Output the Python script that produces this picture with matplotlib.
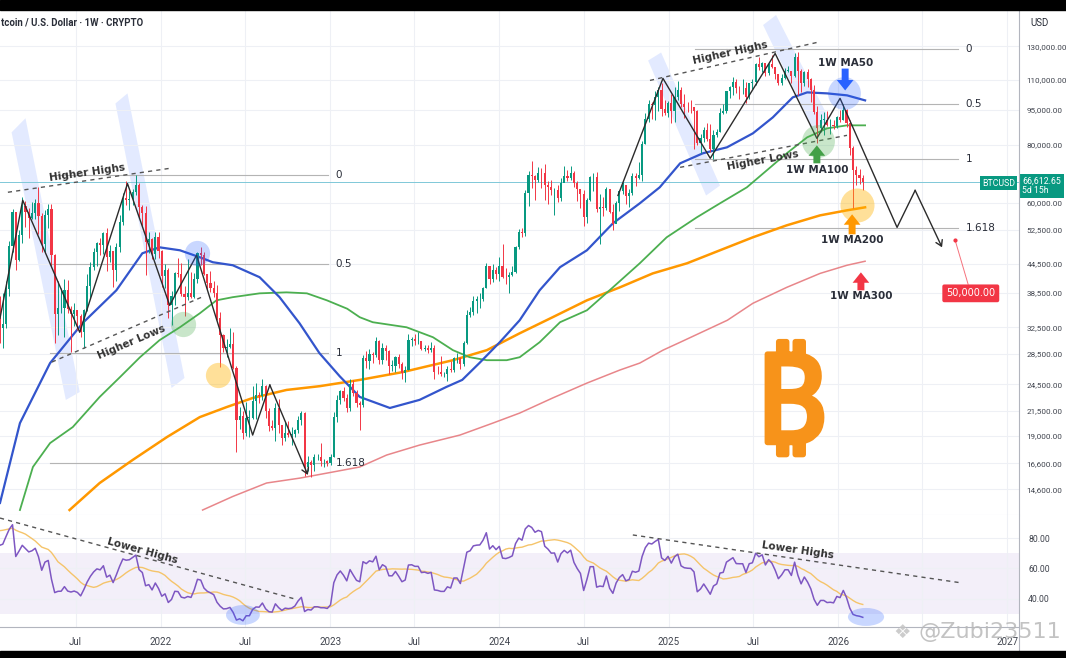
import numpy as np
import pandas as pd
import matplotlib
matplotlib.use("Agg")
import matplotlib.pyplot as plt
import matplotlib.dates as mdates
import matplotlib.patheffects as pe
from matplotlib.patches import Polygon, Ellipse, Rectangle
from matplotlib.lines import Line2D
from matplotlib.ticker import FixedLocator, NullLocator, FuncFormatter

plt.rcParams['font.family'] = ['DejaVu Sans']

# ---------------- weekly BTCUSD candles (week start 2021-01-18 ... 2026-02-23)
first_open = 35800
closes = [
    # 2021
    32300, 33100, 39300, 48600, 57500, 45200, 51200, 59000, 57400, 55800, 57100, 60000, 56200,
    49100, 56600, 58300, 46400, 34700, 35700, 35800, 39100, 35500, 34700, 35300, 34300, 31800,
    35400, 39900, 43800, 47000, 49300, 48800, 51800, 46000, 47300, 43200, 48200, 54700, 61500,
    60900, 61300, 63300, 65500, 58700, 57200, 49400, 50100, 46700, 50800, 47300,
    # 2022
    41800, 43100, 36300, 37900, 42400, 42200, 38300, 37700, 38400, 37800, 41300, 46800, 46400,
    42200, 40400, 39500, 38500, 34000, 31300, 29400, 29500, 29900, 26600, 20600, 21000, 19300,
    20800, 20800, 22600, 23300, 23200, 24300, 21500, 20000, 19800, 21800, 20100, 18800, 19300,
    19100, 19200, 19600, 20600, 21300, 16300, 16700, 16500, 17100, 17100, 16800, 16800, 16600,
    # 2023
    17100, 20900, 22700, 23700, 22900, 21800, 24600, 23500, 22400, 22100, 27900, 27500, 28500,
    28300, 30300, 27600, 29300, 28900, 26900, 26900, 28100, 27100, 25900, 26300, 30500, 30600,
    30300, 30300, 29200, 29300, 29100, 29300, 26100, 26000, 25800, 25800, 26500, 26300, 27900,
    27900, 27100, 30000, 34500, 35000, 37000, 37300, 37400, 39500, 44000, 41300, 43000, 42300,
    # 2024
    43900, 41700, 41600, 42000, 42600, 48300, 52100, 51700, 63100, 68900, 68400, 67200, 69700,
    69400, 65700, 64900, 63800, 63900, 61500, 66300, 68500, 67800, 69600, 66200, 64300, 62700,
    55900, 60800, 68200, 68200, 58100, 58700, 58400, 64200, 57300, 54000, 60000, 63600, 65600,
    62100, 62900, 68400, 67900, 68700, 80400, 90900, 97700, 97300, 101200, 104600, 95200, 93700,
    98300,
    # 2025
    94500, 101300, 104600, 97700, 96500, 96200, 96100, 94200, 80700, 82600, 86100, 82400, 78200,
    83700, 85200, 93700, 94300, 104100, 106500, 109000, 105700, 105600, 105600, 101000, 108300,
    109200, 119100, 117300, 119400, 114100, 119300, 117400, 113500, 108200, 111100, 115300,
    115300, 112100, 123500, 115200, 108600, 114500, 110500, 104700, 94000, 86800, 90400, 90400,
    88100, 88300, 87700, 91500,
    # 2026
    90500, 94800, 89000, 78500, 70500, 68800, 68000, 66612.65,
]
highs = [
    37900, 38500, 40900, 49700, 58300, 57500, 52600, 61800, 60600, 58400, 60200, 61300, 64900,
    57200, 58000, 59600, 59600, 46600, 40900, 39500, 41300, 41000, 36000, 36600, 35100, 34700,
    35500, 42200, 44800, 48100, 49500, 50500, 51900, 52900, 48800, 47400, 49200, 56600, 62900,
    67000, 63700, 64300, 69000, 66300, 59400, 59200, 51900, 50500, 51900, 52100,
    47500, 44400, 43500, 38900, 42700, 45800, 44700, 39800, 45400, 42600, 42400, 47000, 48200,
    47200, 41500, 42900, 40800, 40000, 35000, 31400, 30600, 32400, 31700, 26900, 21900, 21500,
    22500, 21600, 24300, 24700, 23600, 25200, 24400, 21800, 20600, 22400, 22800, 19600, 20400,
    20500, 19900, 19700, 21000, 21500, 21400, 17200, 16900, 17400, 17400, 18400, 17000, 16900,
    17400, 21400, 23300, 23900, 24200, 23400, 25200, 25100, 23900, 22600, 28400, 28900, 29200,
    28800, 31000, 30500, 30000, 29800, 29000, 27600, 28200, 28500, 27400, 26800, 31400, 31000,
    31500, 31800, 30400, 29700, 29700, 30200, 29700, 26800, 28200, 26100, 26900, 27500, 28100,
    28600, 28000, 30300, 35300, 35900, 38000, 37900, 38400, 39600, 44700, 43400, 44300, 43800,
    45900, 48900, 43600, 42600, 43900, 48600, 52800, 52900, 64000, 70100, 73800, 68700, 71700,
    71300, 72800, 66800, 67200, 64700, 65500, 67700, 71900, 70600, 71900, 70200, 66900, 63400,
    63800, 61400, 68500, 69400, 70000, 62700, 61800, 65000, 64400, 59800, 60600, 64100, 66500,
    64400, 64400, 69400, 69500, 73600, 81500, 93500, 99600, 98700, 104000, 106500, 108300, 99900,
    99000,
    102700, 106400, 109600, 106400, 102500, 98800, 99500, 96500, 95000, 84200, 87400, 88800, 88500,
    86100, 86400, 95800, 97900, 104400, 106700, 111900, 110700, 106800, 110400, 108900, 108500,
    110600, 119500, 123200, 120200, 119800, 119500, 124500, 117500, 113500, 113400, 116800,
    117900, 113300, 125700, 126200, 115900, 115300, 116400, 111200, 107500, 96600, 93100, 94100,
    94600, 90600, 90400, 92000,
    94800, 97900, 95500, 90500, 79500, 72000, 70800, 69000,
]
lows = [
    30000, 29300, 32300, 38000, 47100, 43000, 45000, 49300, 53300, 50400, 55300, 55500, 51500,
    47000, 47000, 52900, 43800, 30000, 31200, 34800, 31000, 34800, 28800, 32700, 32100, 31000,
    29300, 35200, 37500, 43200, 43900, 46300, 46700, 42800, 44800, 39600, 40800, 47100, 53900,
    59500, 57800, 59400, 62300, 55600, 53300, 42000, 46900, 45500, 45600, 45700,
    39700, 39400, 34000, 32900, 36300, 41600, 38000, 34300, 37200, 37600, 37600, 40500, 44200,
    42000, 39200, 38600, 37700, 33700, 26700, 28700, 28000, 29300, 26500, 17600, 19700, 18700,
    19000, 18900, 20700, 20700, 22400, 22700, 20800, 19500, 19600, 18500, 19300, 18200, 18500,
    18900, 18200, 18900, 19300, 20100, 15600, 16000, 15500, 16000, 16900, 16400, 16300, 16400,
    16500, 17100, 20400, 22300, 22600, 21400, 21500, 23100, 21900, 19600, 21900, 26600, 26500,
    27200, 28100, 27100, 27100, 27700, 25800, 26200, 26000, 26600, 25200, 24800, 26300, 29600,
    29700, 29900, 29100, 28900, 28600, 28700, 25200, 25800, 25600, 25400, 24900, 26000, 26000,
    27200, 26500, 26900, 29900, 34100, 34600, 34900, 35700, 36900, 39400, 40300, 40600, 41300,
    40800, 41500, 40300, 38500, 41900, 42500, 47700, 50600, 50900, 59000, 64500, 60800, 66600,
    64600, 60800, 59600, 62400, 56600, 60200, 60700, 66600, 66700, 67300, 64900, 60700, 58500,
    53500, 54300, 60600, 63500, 57300, 49100, 56200, 57900, 57200, 52600, 54600, 57600, 62700,
    59800, 58900, 62400, 65100, 67500, 66800, 80200, 89400, 90800, 90500, 94300, 92200, 92500,
    91800,
    89200, 89300, 99500, 96200, 91200, 94100, 93400, 78200, 80000, 76600, 81100, 81600, 77100,
    74500, 83100, 85100, 92900, 93400, 100700, 102000, 103100, 100400, 102800, 98200, 100300,
    105200, 107500, 115700, 114700, 112000, 112700, 116800, 110700, 107300, 107300, 110600,
    114500, 108600, 111600, 102000, 103500, 106800, 106300, 98900, 93000, 80600, 85300, 83800,
    87600, 84400, 86600, 86700,
    89300, 90300, 87300, 76000, 58500, 65500, 66000, 64000,
]
# weekly closes before the first drawn candle (2020-06-01 ...), only used to warm up the RSI
warmup_closes = [9750, 9450, 9300, 9000, 9100, 9250, 9200, 9950, 11100, 11680, 11900, 11650,
                 11700, 10250, 10450, 10950, 10750, 10650, 11380, 11500, 13030, 13800, 15480,
                 16000, 18400, 18200, 19150, 19250, 23850, 26500, 33000, 38200, 35800]

# ---------------- moving averages (date, price)
ma50_dates = ['2021-01-19', '2021-03-03', '2021-05-07', '2021-07-16', '2021-09-27', '2021-11-22',
              '2021-12-29', '2022-02-11', '2022-03-26', '2022-04-23', '2022-06-05', '2022-08-02',
              '2022-09-14', '2022-10-27', '2022-12-09', '2023-01-22', '2023-03-06', '2023-05-10',
              '2023-07-13', '2023-09-09', '2023-10-13', '2023-11-19', '2024-01-02', '2024-02-14',
              '2024-03-28', '2024-05-11', '2024-07-08', '2024-09-02', '2024-10-30', '2024-12-12',
              '2025-01-25', '2025-03-15', '2025-05-06', '2025-07-01', '2025-08-13', '2025-09-25',
              '2025-10-26', '2025-12-08', '2026-01-20', '2026-02-28']
ma50_vals = [13660, 20250, 27230, 33150, 38990, 46800, 48200, 47500, 45890, 44780, 44120, 41590,
             37690, 33150, 28600, 25500, 23040, 21820, 22710, 24210, 25060, 27230, 30180, 33640,
             38990, 43700, 47500, 54250, 59880, 64800, 72940, 76640, 78930, 84570, 91500, 101000,
             103500, 103000, 102000, 99500]
ma100_dates = ['2021-03-03', '2021-03-31', '2021-05-07', '2021-06-25', '2021-08-22', '2021-10-05',
               '2021-11-17', '2021-12-29', '2022-02-11', '2022-03-26', '2022-05-01', '2022-06-05',
               '2022-08-02', '2022-09-29', '2022-11-12', '2022-12-25', '2023-02-07', '2023-03-06',
               '2023-04-03', '2023-06-15', '2023-08-11', '2023-09-23', '2023-10-29', '2023-12-05',
               '2024-01-17', '2024-02-14', '2024-03-28', '2024-05-11', '2024-07-08', '2024-09-02',
               '2024-10-30', '2024-12-27', '2025-03-02', '2025-04-21', '2025-06-18', '2025-07-31',
               '2025-09-12', '2025-10-26', '2025-12-08', '2026-01-20', '2026-02-28']
ma100_vals = [13190, 16310, 18350, 19860, 23040, 25420, 28030, 30480, 32490, 34810, 37110, 37690,
              38410, 38600, 38410, 37110, 35600, 34140, 33310, 32490, 30930, 29020, 28030, 27620,
              27620, 28030, 30180, 33310, 35330, 39560, 44550, 50640, 55880, 59880, 64800, 70460,
              76640, 82920, 86680, 87970, 87970]
ma200_dates = ['2021-06-18', '2021-08-22', '2021-11-01', '2022-01-14', '2022-03-26', '2022-05-23',
               '2022-07-18', '2022-09-29', '2022-12-10', '2023-03-06', '2023-06-07', '2023-09-23',
               '2023-12-05', '2024-02-14', '2024-04-25', '2024-07-08', '2024-09-17', '2024-11-27',
               '2025-02-09', '2025-04-21', '2025-07-01', '2025-09-12', '2025-11-23', '2026-01-20',
               '2026-02-28']
ma200_vals = [13190, 15070, 16880, 18900, 20860, 21920, 22920, 23850, 24300, 25060, 26050, 27620,
              29020, 31540, 34140, 37110, 39560, 42380, 44550, 47500, 50640, 53720, 56430, 57850,
              58710]
ma300_dates = ['2022-04-01', '2022-06-05', '2022-08-17', '2022-10-28', '2023-01-07', '2023-03-06',
               '2023-05-03', '2023-07-13', '2023-10-08', '2023-12-18', '2024-02-14', '2024-04-25',
               '2024-07-08', '2024-09-17', '2024-10-30', '2024-12-19', '2025-01-25', '2025-05-07',
               '2025-07-01', '2025-09-12', '2025-11-23', '2026-01-20', '2026-02-28']
ma300_vals = [13190, 14100, 15070, 15440, 15910, 16310, 17300, 18170, 19090, 20250, 21280, 22920,
              24670, 26310, 27230, 29020, 30170, 33640, 36570, 39560, 42380, 44120, 45000]

# ---------------- drawings
fib_left = (69000, 28600)
fib_right = (128500, 74400)
fib_levels = [0, 0.5, 1, 1.618]
fib_labels = ['0', '0.5', '1', '1.618']

zig_left_dates = ['2021-01-19', '2021-03-09', '2021-07-10', '2021-10-21', '2022-01-20',
                  '2022-03-19', '2022-07-18', '2022-08-24', '2022-11-14']
zig_left_vals = [33970, 60800, 31700, 66000, 36200, 46360, 19090, 24440, 15680]
zig_right_dates = ['2024-09-13', '2024-12-19', '2025-03-31', '2025-08-18', '2025-11-16',
                   '2026-01-05', '2026-05-08', '2026-06-16', '2026-08-13']
zig_right_vals = [62250, 110900, 74770, 125400, 82500, 100500, 53180, 63840, 48200]

bands = [
    (['2021-02-13', '2021-03-15', '2021-07-10', '2021-06-10'], [84990, 91100, 23610, 22700]),
    (['2021-09-25', '2021-10-21', '2022-02-21', '2022-01-24'], [97990, 103000, 25300, 24080]),
    (['2024-11-17', '2024-12-15', '2025-04-21', '2025-03-22'], [121100, 126000, 65360, 62230]),
    (['2025-07-23', '2025-08-20', '2025-12-12', '2025-11-10'], [144300, 151600, 91000, 85500]),
]
trend_lines = [  # dashed "Higher Highs / Higher Lows"
    (['2021-02-05', '2022-01-20'], [63240, 71160]),
    (['2021-05-11', '2022-03-30'], [27370, 37690]),
    (['2024-11-21', '2025-11-16'], [109800, 132400]),
    (['2025-01-25', '2026-01-20'], [71510, 83740]),
]
trend_texts = [
    ('Higher Highs', '2021-07-27', 69770, 8),
    ('Higher Lows', '2021-10-30', 30180, 23),
    ('Higher Highs', '2025-05-13', 126000, 12.5),
    ('Higher Lows', '2025-07-23', 74040, 10.5),
]
rsi_lines = [(['2021-01-19', '2022-10-17'], [93.1, 40.0]),
             (['2024-10-15', '2026-09-25'], [82.0, 50.5])]
rsi_texts = [('Lower Highs', '2021-11-23', 71.5, -15.5), ('Lower Highs', '2025-10-06', 72.1, -8.3)]

circles = [('2022-03-21', 46800, '#2962ff', 0.25, 330), ('2022-02-17', 32990, '#4caf50', 0.3, 330),
           ('2022-05-04', 25670, '#ffb300', 0.4, 330), ('2026-01-14', 103000, '#2962ff', 0.25, 560),
           ('2025-11-18', 81280, '#4caf50', 0.3, 560), ('2026-02-11', 59290, '#ffb300', 0.4, 600)]
ma_arrows = [('1W MA50', '2026-01-16', 116400, 104500, 119900, '#2962ff'),
             ('1W MA100', '2025-11-16', 72940, 79700, 70460, '#43a047'),
             ('1W MA200', '2026-01-31', 51400, 56720, 49900, '#ff9800'),
             ('1W MA300', '2026-02-19', 38990, 42600, 37870, '#f23645')]
target_price = 50000
target_date = '2026-09-10'
target_box = ('2026-10-14', 38410)

price_ticks = [14600, 16600, 19000, 21500, 24500, 28500, 32500, 38500, 44500, 52500, 60000,
               80000, 95000, 110000, 130000]
rsi_ticks = [40, 60, 80]
time_ticks = ['2021-07-01', '2022-01-01', '2022-07-01', '2023-01-01', '2023-07-01', '2024-01-01',
              '2024-07-01', '2025-01-01', '2025-07-01', '2026-01-01', '2026-07-01', '2027-01-01']
time_labels = ['Jul', '2022', 'Jul', '2023', 'Jul', '2024', 'Jul', '2025', 'Jul', '2026', '', '2027']

# ---------------- derived
weeks = pd.date_range('2021-01-18', periods=len(closes), freq='7D')
opens = [first_open] + closes[:-1]
last = closes[-1]

allc = np.array(warmup_closes + closes, dtype=float)
d = np.diff(allc)
gain = np.clip(d, 0, None)
loss = np.clip(-d, 0, None)
ag = np.full(len(d), np.nan)
al = np.full(len(d), np.nan)
ag[13] = gain[:14].mean()
al[13] = loss[:14].mean()
for i in range(14, len(d)):
    ag[i] = (ag[i - 1] * 13 + gain[i]) / 14
    al[i] = (al[i - 1] * 13 + loss[i]) / 14
rsi_full = 100 - 100 / (1 + ag / al)
rsi_ma_full = pd.Series(rsi_full).rolling(14).mean().values
k0 = len(warmup_closes) - 1
rsi = rsi_full[k0:]
rsi_ma = rsi_ma_full[k0:]

def dt(s):
    return pd.Timestamp(s)

W, H = 1066, 658
def fx(px):
    return px / W
def fy(py):
    return 1 - py / H

fig = plt.figure(figsize=(W / 100, H / 100), dpi=100)
ax = fig.add_axes([0, fy(515), fx(1019), fy(10) - fy(515)])
axr = fig.add_axes([0, fy(627), fx(1019), fy(515) - fy(627)], sharex=ax)

grid_c = '#eef0f5'
txt_c = '#2a2e39'
lab_c = '#40444e'
green, red = '#089981', '#f23645'
axis_font = 'Roboto'

# candles
up = [c >= o for o, c in zip(opens, closes)]
cols = [green if u else red for u in up]
ax.vlines(weeks, lows, highs, colors=cols, lw=0.7, zorder=4)
ax.bar(weeks, [max(abs(c - o), c * 0.002) for o, c in zip(opens, closes)],
       bottom=[min(o, c) for o, c in zip(opens, closes)], width=4.6, color=cols, lw=0, zorder=5)

# moving averages
ax.plot(pd.to_datetime(ma300_dates), ma300_vals, color='#e8868a', lw=1.1, zorder=3)
ax.plot(pd.to_datetime(ma200_dates), ma200_vals, color='#ff9800', lw=1.8, zorder=3)
ax.plot(pd.to_datetime(ma100_dates), ma100_vals, color='#4caf50', lw=1.3, zorder=3)
ax.plot(pd.to_datetime(ma50_dates), ma50_vals, color='#3355cc', lw=1.6, zorder=3)

# last price line
ax.axhline(last, color='#7fc8d8', lw=0.7, zorder=2)

# fib lines
for (p0, p1), (d0, d1), dl in [(fib_left, ('2021-05-07', '2022-12-27'), '2023-01-13'),
                               (fib_right, ('2025-02-26', '2026-09-16'), '2026-10-03')]:
    for lv, lab in zip(fib_levels, fib_labels):
        p = np.exp(np.log(p0) - lv * (np.log(p0) - np.log(p1)))
        ax.plot([dt(d0), dt(d1)], [p, p], color='#b4b4b4', lw=0.8, zorder=2)
        ax.text(dt(dl), p, lab, fontsize=7.5, color=txt_c, va='center', ha='left', zorder=6)

# blue channel bands
for ds, ps in bands:
    xy = [(mdates.date2num(dt(a)), b) for a, b in zip(ds, ps)]
    ax.add_patch(Polygon(xy, closed=True, fc='#2962ff', alpha=0.13, ec='none', zorder=1))

# zigzags
ax.plot(pd.to_datetime(zig_left_dates[:-1]), zig_left_vals[:-1], color='#2b2b2b', lw=1.0, zorder=6)
ax.plot(pd.to_datetime(zig_right_dates[:-1]), zig_right_vals[:-1], color='#2b2b2b', lw=1.0, zorder=6)
for ds, vs in [(zig_left_dates, zig_left_vals), (zig_right_dates, zig_right_vals)]:
    ax.annotate('', xy=(dt(ds[-1]), vs[-1]), xytext=(dt(ds[-2]), vs[-2]),
                arrowprops=dict(arrowstyle='->,head_length=0.4,head_width=0.25', color='#2b2b2b',
                                lw=1.0, shrinkA=0, shrinkB=0), zorder=6)

# trend lines
for ds, vs in trend_lines:
    ax.plot(pd.to_datetime(ds), vs, color='#555555', lw=1.0, dashes=(3, 3), zorder=6)
for t, dd, v, r in trend_texts:
    ax.text(dt(dd), v, t, fontsize=7.5, fontweight='bold', color='#333333', rotation=r,
            rotation_mode='anchor', ha='center', va='center', zorder=7)

# circles
for dd, v, c, a, s in circles:
    ax.scatter([dt(dd)], [v], s=s, color=c, alpha=a, lw=0, zorder=7)

# MA arrows + labels
for lab, dd, tail, tip, ty, c in ma_arrows:
    ax.annotate('', xy=(dt(dd), tip), xytext=(dt(dd), tail),
                arrowprops=dict(arrowstyle='simple,head_length=0.75,head_width=1.2,tail_width=0.5',
                                color=c, lw=0, shrinkA=0, shrinkB=0), zorder=8)
    ax.text(dt(dd), ty, lab, fontsize=7.5, fontweight='bold', color=txt_c, ha='center',
            va='center', zorder=8)

# target label
ax.scatter([dt(target_date)], [target_price], s=4, color=red, zorder=8)
ax.annotate(f'{target_price:,.2f}', xy=(dt(target_date), target_price),
            xytext=(dt(target_box[0]), target_box[1]), textcoords='data', fontsize=7,
            color='white', ha='center', va='center',
            bbox=dict(boxstyle='round,pad=0.4,rounding_size=0.2', fc=red, ec='none'),
            arrowprops=dict(arrowstyle='-', color=red, lw=0.7, alpha=0.7, shrinkA=0, shrinkB=1),
            zorder=8)

# bitcoin logo
ax.text(0.776, 0.212, '\u20bf', transform=ax.transAxes, fontsize=89, fontweight='bold',
        family=['DejaVu Sans', 'Noto Sans'], color='#f7931a', ha='center', va='center', zorder=2,
        path_effects=[pe.withStroke(linewidth=4, foreground='#f7931a')])

# price axis
ax.set_yscale('log')
ax.set_ylim(12870, 155400)
ax.set_xlim(dt('2021-01-19'), dt('2027-01-26'))
ax.yaxis.set_major_locator(FixedLocator(price_ticks))
ax.yaxis.set_minor_locator(NullLocator())
ax.yaxis.set_major_formatter(FuncFormatter(lambda v, _: f'{v:,.2f}'))
ax.tick_params(axis='y', which='both', left=False, right=False, labelleft=False,
               labelright=True, labelcolor=lab_c, labelsize=5.9, pad=2)
for t in ax.get_yticklabels():
    t.set_fontfamily(axis_font)
ax.tick_params(axis='x', bottom=False, labelbottom=False)
ax.grid(True, color=grid_c, lw=0.8, zorder=0)
for s in ax.spines.values():
    s.set_visible(False)
ax.spines['bottom'].set_visible(True)
ax.spines['bottom'].set_color('#e3e6ee')

# last price tags
ax.annotate('66,612.65\n5d 15h', xy=(1.0, last), xycoords=('axes fraction', 'data'),
            xytext=(2.5, -3), textcoords='offset points', ha='left', va='center', fontsize=6.3,
            family=axis_font, color='white', linespacing=1.15, annotation_clip=False,
            zorder=20, bbox=dict(boxstyle='square,pad=0.3', fc=green, ec='none'))
ax.annotate('BTCUSD', xy=(1.0, last), xycoords=('axes fraction', 'data'), xytext=(-3, -1),
            textcoords='offset points', ha='right', va='center', fontsize=6.3,
            family=axis_font, color='white', annotation_clip=False, zorder=20,
            bbox=dict(boxstyle='square,pad=0.25', fc=green, ec='none'))

# RSI panel
axr.fill_between([dt('2020-12-01'), dt('2027-03-01')], 30, 70, color='#7e57c2', alpha=0.09, lw=0)
axr.plot(weeks, rsi_ma, color='#f5c46a', lw=1.0, zorder=3)
axr.plot(weeks, rsi, color='#7e57c2', lw=1.1, zorder=4)
for ds, vs in rsi_lines:
    axr.plot(pd.to_datetime(ds), vs, color='#555555', lw=1.0, dashes=(3, 3), zorder=5)
for t, dd, v, r in rsi_texts:
    axr.text(dt(dd), v, t, fontsize=7.5, fontweight='bold', color='#333333', rotation=r,
             rotation_mode='anchor', ha='center', va='center', zorder=6)
axr.add_patch(Ellipse((mdates.date2num(dt('2022-06-27')), 29.5), 73, 13, fc='#2962ff',
                      alpha=0.25, ec='none', zorder=6))
axr.add_patch(Ellipse((mdates.date2num(dt('2026-03-02')), 28.2), 78, 11.8, fc='#2962ff',
                      alpha=0.25, ec='none', zorder=6))
axr.set_ylim(21.6, 95.1)
axr.yaxis.set_major_locator(FixedLocator(rsi_ticks))
axr.yaxis.set_major_formatter(FuncFormatter(lambda v, _: f'{v:.2f}'))
axr.tick_params(axis='y', left=False, right=False, labelleft=False, labelright=True,
                labelcolor=lab_c, labelsize=6.2, pad=3)
axr.set_xticks(pd.to_datetime(time_ticks))
axr.set_xticklabels(time_labels)
axr.tick_params(axis='x', bottom=False, labelcolor=lab_c, labelsize=7, pad=4)
for t in axr.get_yticklabels() + axr.get_xticklabels():
    t.set_fontfamily(axis_font)
axr.grid(True, color=grid_c, lw=0.8, zorder=0)
for s in axr.spines.values():
    s.set_visible(False)
axr.spines['bottom'].set_visible(True)
axr.spines['bottom'].set_color('#b2b5be')

# frame pieces
fig.add_artist(Line2D([fx(1019)] * 2, [fy(651), fy(10)], color='#b2b5be', lw=0.8))
fig.text(fx(1), fy(22), 'tcoin / U.S. Dollar \u00b7 1W \u00b7 CRYPTO', fontsize=6.9,
         fontweight='bold', family=axis_font, color=txt_c, va='center', ha='left')
fig.text(fx(1030), fy(23), 'USD', fontsize=7, family=axis_font, color=txt_c, va='center', ha='left')
fig.text(fx(918), fy(632), '@Zubi23511', fontsize=16, color='#b9b9b9', alpha=0.85,
         va='center', ha='left', zorder=30)
fig.text(fx(893), fy(632), '\u2756', fontsize=14, color='#c4c4c4', alpha=0.85,
         va='center', ha='left', zorder=30)
fig.add_artist(Rectangle((0, fy(10)), 1, 10 / H, transform=fig.transFigure, color='black', zorder=40))
fig.add_artist(Rectangle((0, 0), 1, 7 / H, transform=fig.transFigure, color='black', zorder=40))

fig.savefig('out.png', dpi=100)
